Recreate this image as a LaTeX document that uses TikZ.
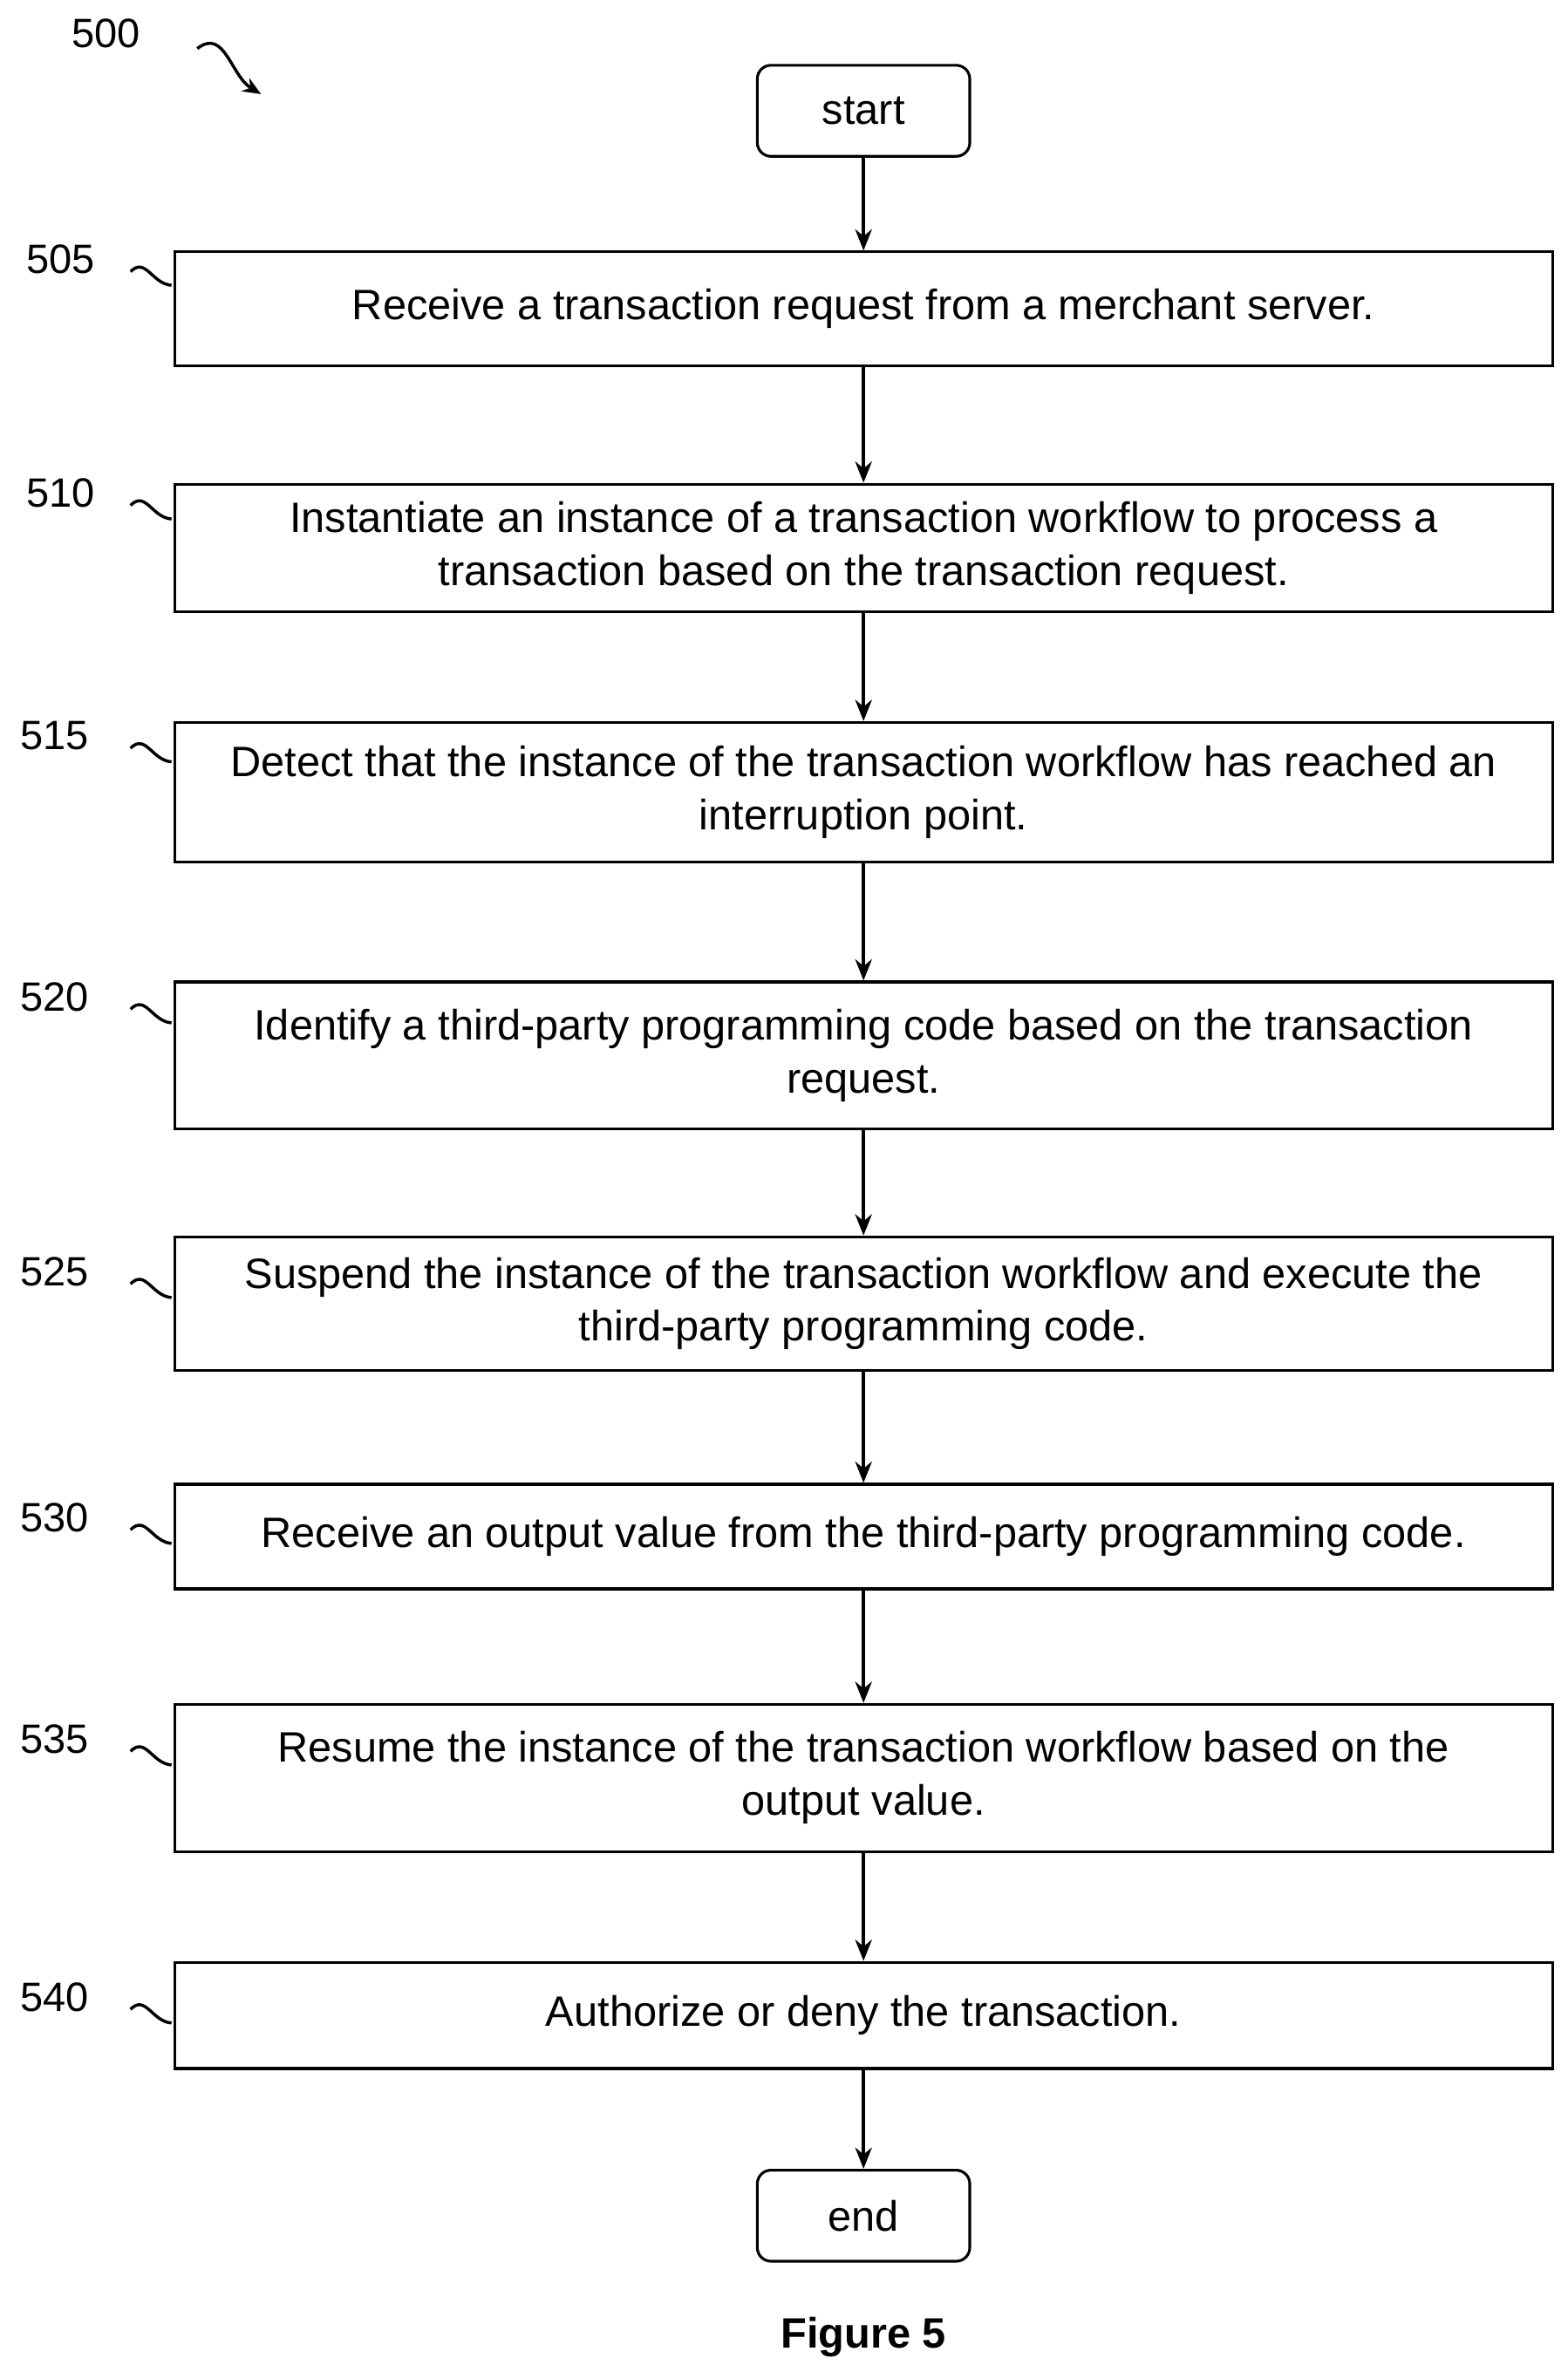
\documentclass[tikz,border=0pt]{standalone}
\usepackage{fontspec}
\setmainfont{Liberation Sans}
\usetikzlibrary{arrows.meta}
\begin{document}
\begin{tikzpicture}[x=1pt,y=-1pt,
  box/.style={draw,line width=1.8pt,minimum width=908pt,inner sep=0pt,align=center,font=\fontsize{28}{35}\selectfont},
  term/.style={draw,line width=1.8pt,rounded corners=9pt,minimum width=140pt,minimum height=60pt,font=\fontsize{28}{30}\selectfont},
  arr/.style={line width=2.2pt,-{Stealth[length=14pt,width=11pt]}},
  lab/.style={font=\fontsize{27}{30}\selectfont},
  sq/.style={line width=2pt}]
\useasboundingbox (0,0) rectangle (1033,1563);
\node[term] (start) at (569,73) {start};
\node[box,minimum height=75pt] (b505) at (569,203.5) {Receive a transaction request from a merchant server.};
\node[box,minimum height=84pt] (b510) at (569,361) {Instantiate an instance of a transaction workflow to process a\\transaction based on the transaction request.};
\node[box,minimum height=92pt] (b515) at (569,522) {Detect that the instance of the transaction workflow has reached an\\interruption point.};
\node[box,minimum height=97pt] (b520) at (569,695.5) {Identify a third-party programming code based on the transaction\\request.};
\node[box,minimum height=88pt] (b525) at (569,859) {Suspend the instance of the transaction workflow and execute the\\third-party programming code.};
\node[box,minimum height=69pt] (b530) at (569,1012.5) {Receive an output value from the third-party programming code.};
\node[box,minimum height=97pt] (b535) at (569,1171.5) {Resume the instance of the transaction workflow based on the\\output value.};
\node[box,minimum height=70pt] (b540) at (569,1328) {Authorize or deny the transaction.};
\node[term] (end) at (569,1460) {end};
\foreach \a/\b in {start/b505,b505/b510,b510/b515,b515/b520,b520/b525,b525/b530,b530/b535,b535/b540,b540/end}
  \draw[arr] (\a) -- (\b);
\foreach \n/\y/\x in {505/171/40,510/325/40,515/485/36,520/657/36,525/838/36,530/1000/36,535/1146/36,540/1316/36}{
  \node[lab] (l\n) at (\x,\y) {\n};
  \coordinate (s\n) at (86,\y+8);
  \coordinate (e\n) at (113,\y+17);
  \draw[sq] (s\n) .. controls (96,\y-2) and (100,\y+16) .. (e\n);
}
\node[lab] (l500) at (70,22) {500};
\coordinate (a1) at (130,32);
\coordinate (a2) at (172,62);
\draw[sq,-{Stealth[length=12pt,width=10pt]}] (a1) .. controls (148,18) and (152,50) .. (a2);
\node[font=\bfseries\fontsize{28}{30}\selectfont] (fig) at (569,1540) {Figure 5};
\end{tikzpicture}
\end{document}
